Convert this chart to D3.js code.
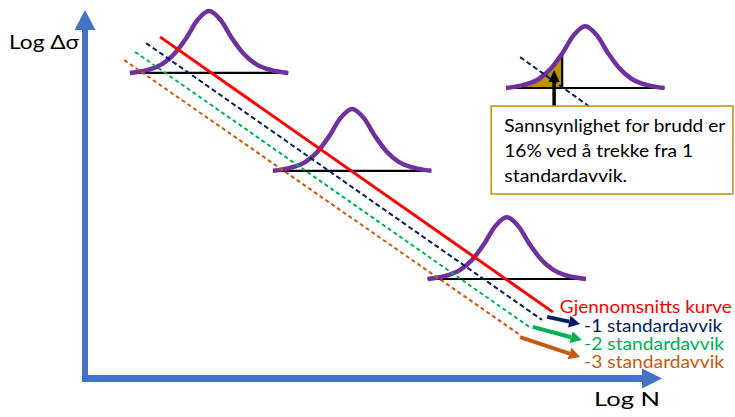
<!DOCTYPE html>
<html>
<head>
<meta charset="utf-8">
<script src="https://cdn.jsdelivr.net/npm/d3@7"></script>
<style>
  html, body { margin: 0; padding: 0; background: #fff; }
  svg { display: block; font-family: Lato, "Open Sans", sans-serif; }
</style>
</head>
<body>
<svg id="chart" width="735" height="417"></svg>
<script>
// S-N curves: mean curve and curves shifted by 1, 2 and 3 standard deviations
const curveNames = ["Gjennomsnitts kurve", "-1 standardavvik", "-2 standardavvik", "-3 standardavvik"];
const curveStartX = [13.0, 10.6, 8.7, 6.8];
const curveStartY = [92.7, 91.0, 88.6, 86.4];
const curveEndX = [81.1, 79.2, 77.0, 75.4];
const curveEndY = [17.9, 15.8, 13.9, 11.7];

// Pointer arrows from the shifted curves to their labels
const arrowFromX = [80.1, 77.6, 75.4];
const arrowFromY = [16.6, 13.9, 11.1];
const arrowToX = [85.8, 86.1, 85.8];
const arrowToY = [14.7, 10.3, 5.7];

// Curve labels
const labelX = [82.3, 86.5, 86.5, 86.5];
const labelY = [17.7, 12.6, 7.6, 2.6];

// Scatter distributions along the mean curve, plus one explanatory distribution
const bellMean = [21.5, 46.3, 73.1, 86.7];
const bellBase = [82.9, 56.3, 26.9, 78.8];
const bellSd = 4.0;
const bellPeak = 16.8;
// relative density at offsets given in standard deviations
const profileZ = [0, 0.5, 1, 1.5, 2, 2.5, 3, 3.43];
const profileH = [1, 0.856, 0.557, 0.31, 0.15, 0.067, 0.023, 0];

// Explanatory part: the -1 sd line and the 16 % failure probability
const sdLineX = [75.4, 87.3];
const sdLineY = [87.2, 73.9];
const noteArrowX = 81.3;
const noteArrowY = [73.9, 83.7];
const noteBoxX = [70.4, 112.3];
const noteBoxY = [73.9, 50.0];
const noteLines = ["Sannsynlighet for brudd er", "16% ved å trekke fra 1", "standardavvik."];

const axisLabels = ["Log Δσ", "Log N"];

// text styling (font sizes and stretched widths in px)
const curveColors = ["#ff0000", "#002060", "#00b050", "#c55a11"];
const curveDash = [null, "5,3", "4,3", "4,3"];
const curveWidth = [3, 2, 2, 2];
const labelWidths = [172, 138, 140, 140];
const noteWidths = [221, 189, 123];
const axisLabelWidths = [70, 66];

const svg = d3.select("#chart");
const x = d3.scaleLinear().domain([0, 100]).range([85, 662]);
const y = d3.scaleLinear().domain([0, 100]).range([378, 10]);

// --- axes (thick blue arrows) ---
const axisBlue = "#4472c4";
svg.append("line")
  .attr("x1", x(0)).attr("y1", y(0) + 4)
  .attr("x2", x(0)).attr("y2", y(100) + 20)
  .attr("stroke", axisBlue).attr("stroke-width", 6);
svg.append("path")
  .attr("d", `M${x(0) - 10.5},${y(100) + 20} L${x(0)},${y(100)} L${x(0) + 10.5},${y(100) + 20} Z`)
  .attr("fill", axisBlue);
svg.append("line")
  .attr("x1", x(0) - 3).attr("y1", y(0) + 0.5)
  .attr("x2", x(100) - 20).attr("y2", y(0) + 0.5)
  .attr("stroke", axisBlue).attr("stroke-width", 7);
svg.append("path")
  .attr("d", `M${x(100) - 20},${y(0) + 0.5 - 10} L${x(100)},${y(0) + 0.5} L${x(100) - 20},${y(0) + 0.5 + 10} Z`)
  .attr("fill", axisBlue);

svg.append("text").attr("x", 9).attr("y", 49)
  .attr("font-size", 20).attr("fill", "#000")
  .attr("textLength", axisLabelWidths[0]).attr("lengthAdjust", "spacingAndGlyphs")
  .text(axisLabels[0]);
svg.append("text").attr("x", 594).attr("y", 406)
  .attr("font-size", 20).attr("fill", "#000")
  .attr("textLength", axisLabelWidths[1]).attr("lengthAdjust", "spacingAndGlyphs")
  .text(axisLabels[1]);

// --- distributions ---
const zs = profileZ.slice(1).reverse().map(z => -z).concat(profileZ);
const hs = profileH.slice(1).reverse().concat(profileH);
const bellLine = d3.line().curve(d3.curveMonotoneX);

function bellPoints(i, zmax) {
  const pts = [];
  zs.forEach((z, k) => {
    if (zmax === undefined || z <= zmax) {
      pts.push([x(bellMean[i] + z * bellSd), y(bellBase[i] + hs[k] * bellPeak)]);
    }
  });
  return pts;
}

// shaded tail below -1 sd on the explanatory distribution
const tail = bellPoints(3, -1);
const tailArea = d3.area().curve(d3.curveMonotoneX)
  .x(d => d[0]).y1(d => d[1]).y0(y(bellBase[3]));
svg.append("path").attr("d", tailArea(tail)).attr("fill", "#bf9000");

bellMean.forEach((m, i) => {
  const half = profileZ[profileZ.length - 1] * bellSd;
  svg.append("line")
    .attr("x1", x(m - half)).attr("x2", x(m + half))
    .attr("y1", y(bellBase[i])).attr("y2", y(bellBase[i]))
    .attr("stroke", "#000").attr("stroke-width", 2.2);
});

// -1 sd marker line
svg.append("line")
  .attr("x1", x(bellMean[3] - bellSd)).attr("x2", x(bellMean[3] - bellSd))
  .attr("y1", y(bellBase[3])).attr("y2", y(bellBase[3] + profileH[2] * bellPeak))
  .attr("stroke", "#000").attr("stroke-width", 2.2);

bellMean.forEach((m, i) => {
  svg.append("path").attr("d", bellLine(bellPoints(i)))
    .attr("fill", "none").attr("stroke", "#7030a0")
    .attr("stroke-width", 4.5).attr("stroke-linejoin", "round");
});

// --- S-N curves ---
curveNames.forEach((n, i) => {
  svg.append("line")
    .attr("x1", x(curveStartX[i])).attr("y1", y(curveStartY[i]))
    .attr("x2", x(curveEndX[i])).attr("y2", y(curveEndY[i]))
    .attr("stroke", curveColors[i]).attr("stroke-width", curveWidth[i])
    .attr("stroke-dasharray", curveDash[i]);
});

svg.append("line")
  .attr("x1", x(sdLineX[0])).attr("y1", y(sdLineY[0]))
  .attr("x2", x(sdLineX[1])).attr("y2", y(sdLineY[1]))
  .attr("stroke", curveColors[1]).attr("stroke-width", 2)
  .attr("stroke-dasharray", curveDash[1]);

// --- arrows to labels ---
function arrow(x1, y1, x2, y2, color, w, headLen, headW) {
  const dx = x2 - x1, dy = y2 - y1, L = Math.hypot(dx, dy);
  const ux = dx / L, uy = dy / L, px = -uy, py = ux;
  const bx = x2 - ux * headLen, by = y2 - uy * headLen;
  svg.append("line").attr("x1", x1).attr("y1", y1).attr("x2", bx).attr("y2", by)
    .attr("stroke", color).attr("stroke-width", w);
  svg.append("path")
    .attr("d", `M${bx + px * headW / 2},${by + py * headW / 2} L${x2},${y2} L${bx - px * headW / 2},${by - py * headW / 2} Z`)
    .attr("fill", color);
}
arrowFromX.forEach((ax, i) => {
  arrow(x(ax), y(arrowFromY[i]), x(arrowToX[i]), y(arrowToY[i]), curveColors[i + 1], 4, 11, 12);
});

curveNames.forEach((n, i) => {
  svg.append("text").attr("x", x(labelX[i])).attr("y", y(labelY[i]))
    .attr("font-size", 16.5).attr("fill", curveColors[i])
    .attr("textLength", labelWidths[i]).attr("lengthAdjust", "spacingAndGlyphs")
    .text(n);
});

// --- note box ---
arrow(x(noteArrowX), y(noteArrowY[0]), x(noteArrowX), y(noteArrowY[1]), "#000", 3.5, 12, 11);

svg.append("rect")
  .attr("x", x(noteBoxX[0])).attr("y", y(noteBoxY[0]))
  .attr("width", x(noteBoxX[1]) - x(noteBoxX[0]))
  .attr("height", y(noteBoxY[1]) - y(noteBoxY[0]))
  .attr("fill", "#fff").attr("stroke", "#bf9000").attr("stroke-width", 1.5);

noteLines.forEach((t, k) => {
  svg.append("text").attr("x", x(noteBoxX[0]) + 13).attr("y", y(noteBoxY[0]) + 26 + k * 25)
    .attr("font-size", 17).attr("fill", "#000")
    .attr("textLength", noteWidths[k]).attr("lengthAdjust", "spacingAndGlyphs")
    .text(t);
});
</script>
</body>
</html>
